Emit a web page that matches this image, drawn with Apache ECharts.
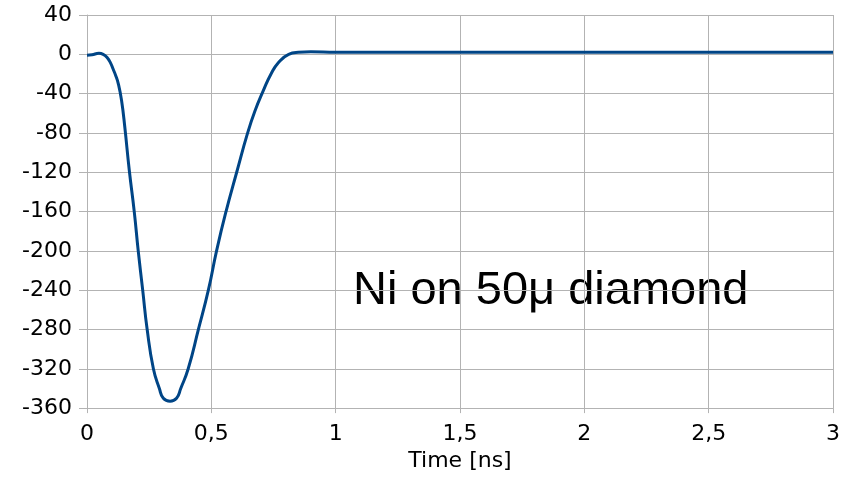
<!DOCTYPE html>
<html>
<head>
<meta charset="utf-8">
<script src="https://cdn.jsdelivr.net/npm/echarts@6/dist/echarts.min.js"></script>
<style>html,body{margin:0;padding:0;background:#fff}#c{width:851px;height:477px}</style>
</head>
<body>
<div id="c"></div>
<script>
var timeNs = [0, 0.02, 0.048, 0.065, 0.08, 0.095, 0.105, 0.116, 0.126, 0.139, 0.152, 0.170, 0.19, 0.206, 0.224, 0.242, 0.267, 0.291, 0.307, 0.334, 0.36, 0.377, 0.407, 0.448, 0.488, 0.521, 0.559, 0.602, 0.646, 0.675, 0.709, 0.74, 0.771, 0.811, 0.85, 0.9, 1.0, 1.2, 1.5, 2.0, 2.5, 3.0];
var signal = [-1, -0.5, 1, 0, -3, -9, -15, -22, -30, -47, -74, -118, -160, -200, -240, -280, -320, -340, -350, -353, -350, -340, -320, -280, -240, -200, -160, -120, -80, -58, -37, -20, -8, 0, 2, 2.5, 2, 2, 2, 2, 2, 2];
var xTicks = { min: 0, max: 3, step: 0.5 };
var yTicks = { min: -360, max: 40, step: 40 };
var xTitle = 'Time [ns]';
var note = 'Ni on 50\u03bc diamond';

var points = timeNs.map(function (t, i) { return [t, signal[i]]; });
var gridGray = '#b3b3b3';
var chart = echarts.init(document.getElementById('c'), null, { renderer: 'canvas' });
chart.setOption({
  animation: false,
  backgroundColor: '#ffffff',
  grid: { left: 87, right: 18, top: 15, bottom: 66, containLabel: false },
  xAxis: {
    type: 'value', min: xTicks.min, max: xTicks.max, interval: xTicks.step,
    name: xTitle, nameLocation: 'middle', nameGap: 33,
    nameTextStyle: { fontFamily: 'DejaVu Sans', fontSize: 22, color: '#000' },
    axisLine: { show: true, onZero: false, lineStyle: { color: gridGray, width: 1 } },
    axisTick: { show: true, length: 5, lineStyle: { color: gridGray } },
    axisLabel: { fontFamily: 'DejaVu Sans', fontSize: 22, color: '#000', margin: 15,
      formatter: function (v) { return String(v).replace('.', ','); } },
    splitLine: { show: true, lineStyle: { color: gridGray, width: 1 } }
  },
  yAxis: {
    type: 'value', min: yTicks.min, max: yTicks.max, interval: yTicks.step,
    axisLine: { show: true, lineStyle: { color: gridGray, width: 1 } },
    axisTick: { show: true, length: 8, lineStyle: { color: gridGray } },
    axisLabel: { fontFamily: 'DejaVu Sans', fontSize: 22, color: '#000', margin: 15 },
    splitLine: { show: true, lineStyle: { color: gridGray, width: 1 } }
  },
  series: [{
    type: 'line', data: points, smooth: 0.5, showSymbol: false,
    lineStyle: { color: '#004586', width: 3 }, itemStyle: { color: '#004586' }
  }],
  graphic: [{
    type: 'text', left: 353, top: 268,
    style: { text: note, fontFamily: 'Liberation Sans', fontSize: 47, fill: '#000' }
  }]
});
</script>
</body>
</html>
